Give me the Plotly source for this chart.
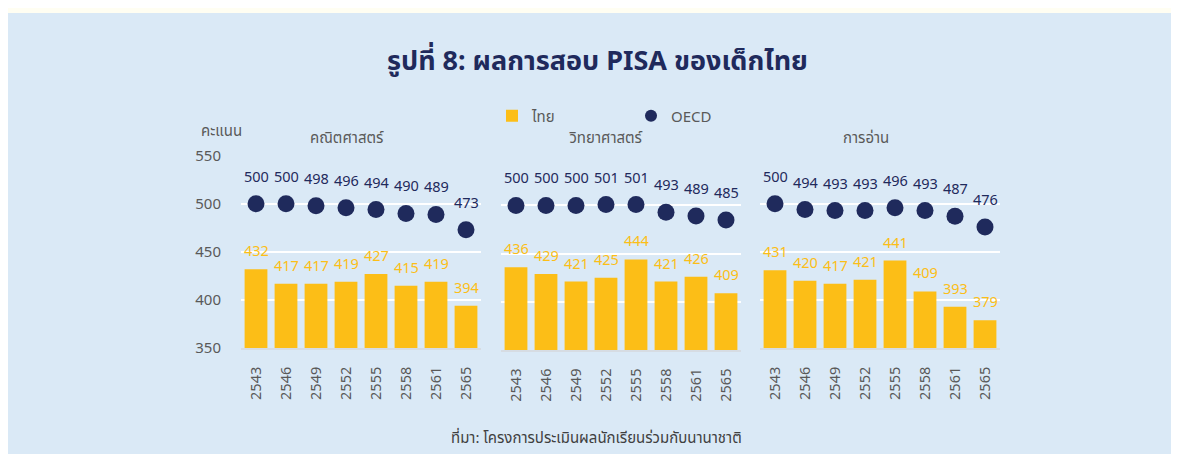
import plotly.graph_objects as go

# ---------------- data ----------------
years = ["2543", "2546", "2549", "2552", "2555", "2558", "2561", "2565"]
subjects = ["คณิตศาสตร์", "วิทยาศาสตร์", "การอ่าน"]
thai_math = [432, 417, 417, 419, 427, 415, 419, 394]
oecd_math = [500, 500, 498, 496, 494, 490, 489, 473]
thai_sci = [436, 429, 421, 425, 444, 421, 426, 409]
oecd_sci = [500, 500, 500, 501, 501, 493, 489, 485]
thai_read = [431, 420, 417, 421, 441, 409, 393, 379]
oecd_read = [500, 494, 493, 493, 496, 493, 487, 476]
y_ticks = [350, 400, 450, 500, 550]
series_names = ["ไทย", "OECD"]
title_text = "<b>รูปที่ 8: ผลการสอบ PISA ของเด็กไทย</b>"
ytitle_text = "คะแนน"
source_text = "ที่มา: โครงการประเมินผลนักเรียนร่วมกับนานาชาติ"

# page body keeps its default 8px margin, so the figure is sized to fit inside
OFF = 8
W, H = 1179 - 2 * OFF, 462 - 2 * OFF
FONT = "Noto Sans, Noto Sans Thai, Loma, Garuda, sans-serif"
YELLOW = "#FCBE17"
NAVY = "#1F2A5C"
GRAY = "#595959"
BG_PANEL = "#DAE9F6"
BG_PAGE = "#FFFEF2"


def fx(px):
    return (px - OFF) / W


def fy(py):
    return 1 - (py - OFF) / H


thai_all = [thai_math, thai_sci, thai_read]
oecd_all = [oecd_math, oecd_sci, oecd_read]
xpos = list(range(len(years)))

x_dom = [(241, 481), (501, 741), (760, 1000)]
y_dom = [(155.7, 348.2), (157.3, 350.0), (155.7, 348.2)]
title_cx = [347, 606, 866]

fig = go.Figure()
annotations = []

for i in range(3):
    xa = "x" if i == 0 else f"x{i+1}"
    ya = "y" if i == 0 else f"y{i+1}"
    fig.add_trace(go.Bar(
        x=xpos, y=thai_all[i], xaxis=xa, yaxis=ya,
        name=series_names[0], legendgroup="thai", showlegend=(i == 0),
        marker=dict(color=YELLOW, line=dict(width=0)), width=0.76,
        customdata=years, hovertemplate="%{customdata}: %{y}<extra>ไทย</extra>",
    ))
    fig.add_trace(go.Scatter(
        x=xpos, y=oecd_all[i], xaxis=xa, yaxis=ya, mode="markers",
        name=series_names[1], legendgroup="oecd", showlegend=(i == 0),
        marker=dict(color=NAVY, size=17, line=dict(width=0)),
        cliponaxis=False,
        customdata=years, hovertemplate="%{customdata}: %{y}<extra>OECD</extra>",
    ))
    for xp, v in zip(xpos, thai_all[i]):
        annotations.append(dict(
            x=xp, y=v, xref=xa, yref=ya, text=str(v), showarrow=False,
            yshift=19, font=dict(family=FONT, size=14.5, color=YELLOW),
        ))
    for xp, v in zip(xpos, oecd_all[i]):
        annotations.append(dict(
            x=xp, y=v, xref=xa, yref=ya, text=str(v), showarrow=False,
            yshift=28, font=dict(family=FONT, size=14.5, color=NAVY),
        ))
    annotations.append(dict(
        x=fx(title_cx[i]), y=fy(137), xref="paper", yref="paper",
        text=subjects[i], showarrow=False, xanchor="center", yanchor="middle",
        font=dict(family=FONT, size=15, color=GRAY),
    ))

    xkey = "xaxis" if i == 0 else f"xaxis{i+1}"
    ykey = "yaxis" if i == 0 else f"yaxis{i+1}"
    fig.layout[xkey] = dict(
        domain=[fx(x_dom[i][0]), fx(x_dom[i][1])], anchor=ya,
        type="linear", range=[-0.5, len(years) - 0.5],
        tickmode="array", tickvals=xpos, ticktext=years,
        tickangle=-90, showgrid=False, zeroline=False,
        showline=True, linecolor="#D6DCE3", linewidth=1.5,
        ticks="outside", ticklen=11, tickcolor="rgba(0,0,0,0)",
        tickfont=dict(family=FONT, size=14.5, color=GRAY),
        fixedrange=True, automargin=False,
    )
    fig.layout[ykey] = dict(
        domain=[fy(y_dom[i][1]), fy(y_dom[i][0])], anchor=xa,
        range=[350, 550], tickmode="array", tickvals=y_ticks, showgrid=True,
        gridcolor="#FFFFFF", gridwidth=2, zeroline=False,
        showticklabels=(i == 0), showline=False,
        ticks="outside" if i == 0 else "", ticklen=16,
        tickcolor="rgba(0,0,0,0)",
        tickfont=dict(family=FONT, size=15, color=GRAY),
        fixedrange=True, automargin=False,
    )

annotations.append(dict(
    x=fx(597), y=fy(59), xref="paper", yref="paper", text=title_text,
    showarrow=False, xanchor="center", yanchor="middle",
    font=dict(family=FONT, size=27, color=NAVY),
))
annotations.append(dict(
    x=fx(221), y=fy(130), xref="paper", yref="paper", text=ytitle_text,
    showarrow=False, xanchor="center", yanchor="middle",
    font=dict(family=FONT, size=15, color=GRAY),
))
annotations.append(dict(
    x=fx(596), y=fy(437), xref="paper", yref="paper", text=source_text,
    showarrow=False, xanchor="center", yanchor="middle",
    font=dict(family=FONT, size=15, color="#404040"),
))

fig.update_layout(
    width=W, height=H, autosize=False,
    margin=dict(l=0, r=0, t=0, b=0, pad=0),
    paper_bgcolor=BG_PAGE, plot_bgcolor="rgba(0,0,0,0)",
    font=dict(family=FONT, color=GRAY),
    barmode="overlay",
    annotations=annotations,
    shapes=[dict(type="rect", xref="paper", yref="paper",
                 x0=0, x1=1.0, y0=0, y1=fy(13),
                 fillcolor=BG_PANEL, line=dict(width=0), layer="below")],
    legend=dict(
        orientation="h", x=fx(492), y=fy(116), xanchor="left", yanchor="middle",
        bgcolor="rgba(0,0,0,0)", font=dict(family=FONT, size=15, color=GRAY),
        itemsizing="constant", entrywidth=94, entrywidthmode="pixels",
        traceorder="normal",
    ),
)

fig.write_html("out.html", config={"displayModeBar": False})
